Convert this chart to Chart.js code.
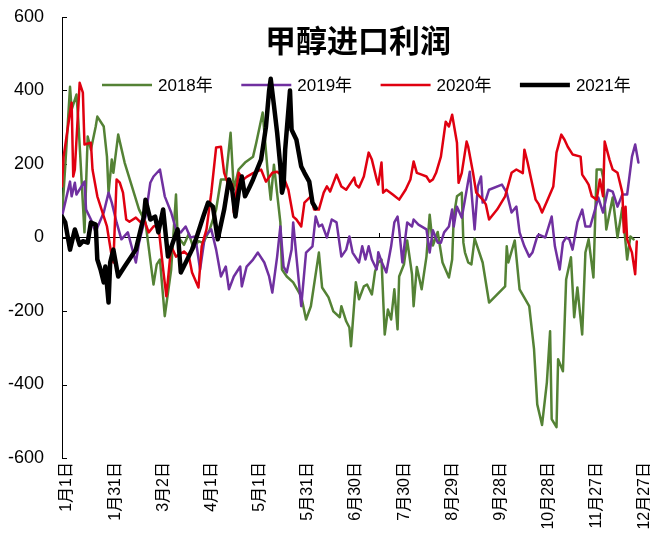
<!DOCTYPE html>
<html>
<head>
<meta charset="utf-8">
<script src="https://cdn.jsdelivr.net/npm/chart.js@4.4.1/dist/chart.umd.min.js"></script>
<style>
	html, body { margin: 0; padding: 0; background: #fff; }
</style>
</head>
<body>
<canvas id="importProfitChart" width="650" height="549"></canvas>
<script>
const chartTitle = '甲醇进口利润';
const seriesNames = ['2018年', '2019年', '2020年', '2021年'];
const xLabels = ['1月1日', '1月31日', '3月2日', '4月1日', '5月1日', '5月31日', '6月30日', '7月30日', '8月29日', '9月28日', '10月28日', '11月27日', '12月27日'];
const yTicks = [-600, -400, -200, 0, 200, 400, 600];
// small marks on the zero line (day of year)
const zeroLineTicks = [0, 98.7, 197.5, 296.2];

// day of year (0 = 1月1日) and profit
const days2018 = [0,2,5,6,9,10,14,16,18,21,22,26,28,29,31,32,35,39,48,52,56,57,59,61,64,68,71,72,76,79,82,85,88,92,96,99,102,105,107,110,114,119,121,125,128,130,132,136,137,140,144,149,152,155,160,162,166,169,173,174,177,179,180,183,185,188,190,193,195,197,199,201,203,205,207,209,210,213,215,218,219,221,224,227,229,231,234,237,241,243,244,246,249,250,251,253,255,257,262,266,276,277,278,282,285,291,294,296,299,302,304,305,308,309,312,314,317,319,321,324,326,328,331,333,336,337,339,343,346,349,352,354,356];
const profit2018 = [57,193,410,348,389,330,14,275,239,302,329,302,220,122,212,176,280,204,76,41,-95,-128,-73,-60,-214,-87,117,3,-20,10,-30,-10,-15,22,76,158,158,285,130,185,204,220,258,340,185,103,198,41,-87,-106,-122,-160,-223,-187,-41,-136,-163,-201,-217,-187,-228,-245,-296,-122,-168,-133,-128,-155,-92,-68,-60,-264,-196,-223,-141,-250,-106,-73,-8,-100,-187,-80,-141,-52,62,-22,15,-68,-109,-60,57,112,122,-14,-41,-68,-73,-3,-68,-177,-133,-24,-68,-8,-141,-187,-304,-454,-510,-394,-255,-494,-516,-331,-364,-114,-54,-217,-136,-264,-41,-5,-109,185,185,163,22,109,0,81,-60,3,-5];

const days2019 = [0,5,6,8,9,14,15,18,21,22,26,29,31,34,37,41,46,48,52,55,57,61,64,68,71,74,77,80,83,86,89,93,96,99,102,104,107,111,112,115,119,122,126,129,131,134,136,138,140,143,144,146,149,152,156,158,160,162,165,168,171,174,177,179,181,185,187,189,191,193,196,197,199,202,205,207,209,210,212,215,218,219,222,227,229,231,234,236,238,241,243,244,246,249,251,254,257,259,261,262,264,266,274,277,280,283,285,288,291,293,296,297,301,305,307,310,312,314,316,318,321,324,326,329,332,334,337,340,343,346,349,352,355,357,359];
const profit2019 = [57,152,112,149,117,152,76,49,14,27,68,122,95,41,-5,14,-68,-14,57,149,166,185,112,68,22,14,30,0,3,-87,3,22,-33,-106,-79,-141,-106,-79,-133,-79,-60,-41,-68,-106,-150,-52,30,-79,-95,-33,41,-52,-187,-41,-24,57,30,35,0,49,41,-52,-33,3,-41,-68,-24,-60,-24,-60,-87,-40,-65,-95,-24,41,57,22,-68,41,30,49,35,22,-41,20,-14,-14,14,30,76,30,84,54,103,179,22,139,166,95,103,130,144,122,68,84,14,-24,-52,-41,3,8,0,57,-24,-87,-14,0,-5,-33,41,76,30,30,76,109,68,130,125,84,117,117,220,253,204];

const days2020 = [0,1,5,6,7,8,11,13,14,18,19,22,28,31,32,34,36,38,40,42,46,49,51,54,57,60,63,65,68,71,76,79,81,85,87,90,93,96,99,101,104,106,107,110,113,115,119,124,127,131,134,138,141,144,146,149,151,155,157,160,163,165,167,171,174,177,182,183,185,188,191,193,196,197,199,200,202,206,210,214,217,219,221,224,227,229,231,233,236,239,241,243,246,247,249,252,253,256,258,262,264,266,271,276,280,283,287,288,290,292,295,297,299,302,306,308,311,313,315,318,323,324,326,328,330,333,335,337,338,341,343,346,349,350,351,352,355,357,358];
const profit2020 = [139,220,340,367,166,185,421,394,253,258,185,112,30,-52,-68,158,149,122,49,43,54,41,50,14,30,35,-87,-160,-24,-52,-38,-50,-95,-136,-24,22,122,245,247,176,139,145,68,176,158,165,175,185,152,176,179,165,130,57,49,30,95,112,76,76,122,139,125,171,139,130,163,144,136,166,231,212,158,144,204,122,130,117,103,130,158,207,176,171,166,152,158,176,220,315,302,334,258,149,176,261,247,176,122,103,90,49,76,112,176,185,175,239,204,163,103,90,68,98,139,231,280,266,247,226,220,171,158,144,112,103,158,112,261,212,185,176,122,14,84,-5,-41,-100,-11];

const days2021 = [0,2,5,8,11,13,16,18,21,22,24,26,27,29,30,32,35,39,46,49,51,52,55,58,60,63,66,69,72,74,78,81,84,88,91,94,97,101,104,106,108,110,112,114,117,119,124,127,129,130,132,134,136,137,138,139,142,143,146,149,151,154,156,158];
const profit2021 = [57,41,-33,22,-20,-10,-14,41,35,-60,-87,-122,-79,-177,-68,-33,-106,-79,-33,22,57,103,49,57,14,76,-52,-14,22,-95,-60,-33,3,57,95,84,-5,76,158,130,57,122,166,112,139,158,212,300,400,432,360,285,193,122,139,239,400,293,266,193,176,152,95,80];

const fontFamily = '"Liberation Sans", Arial, "Noto Sans CJK SC", sans-serif';

function toPoints(days, values) {
	return days.map(function (d, i) {
		return { x: d, y: values[i] };
	});
}

function lineSet(label, days, values, color, width, order) {
	return {
		label: label,
		data: toPoints(days, values),
		borderColor: color,
		backgroundColor: color,
		borderWidth: width,
		borderJoinStyle: 'round',
		borderCapStyle: 'round',
		pointRadius: 0,
		tension: 0,
		order: order,
	};
}

// title and legend sit inside the plot, under the lines
const titleAndLegend = {
	id: 'titleAndLegend',
	beforeDatasetsDraw: function (chart) {
		const ctx = chart.ctx;
		ctx.save();
		ctx.fillStyle = '#000';
		ctx.textBaseline = 'middle';
		ctx.textAlign = 'center';
		ctx.font = 'bold 31px "Noto Sans CJK SC", sans-serif';
		ctx.fillText(chartTitle, 358, 40);

		ctx.font = '17px ' + fontFamily;
		ctx.textAlign = 'left';
		chart.data.datasets.forEach(function (ds, i) {
			const x = 102 + i * 139.3;
			ctx.strokeStyle = ds.borderColor;
			ctx.lineWidth = ds.borderWidth;
			ctx.beginPath();
			ctx.moveTo(x, 85);
			ctx.lineTo(x + 50, 85);
			ctx.stroke();
			ctx.fillText(ds.label, x + 56, 86);
		});

		// small inside tick marks on the value axis and on the zero line
		const xScale = chart.scales.x;
		const yScale = chart.scales.y;
		ctx.strokeStyle = '#000';
		ctx.lineWidth = 1;
		yScale.ticks.forEach(function (t) {
			const py = Math.round(yScale.getPixelForValue(t.value)) + 0.5;
			ctx.beginPath();
			ctx.moveTo(yScale.right, py);
			ctx.lineTo(yScale.right + 5, py);
			ctx.stroke();
		});
		const zeroY = Math.round(yScale.getPixelForValue(0));
		zeroLineTicks.forEach(function (d) {
			const px = Math.round(xScale.getPixelForValue(d)) + 0.5;
			ctx.beginPath();
			ctx.moveTo(px, zeroY);
			ctx.lineTo(px, zeroY - 5);
			ctx.stroke();
		});
		ctx.restore();
	},
};

Chart.defaults.font.family = fontFamily;
Chart.defaults.color = '#000';

const ctx = document.getElementById('importProfitChart').getContext('2d');
const chart = new Chart(ctx, {
	type: 'line',
	data: {
		datasets: [
			lineSet(seriesNames[0], days2018, profit2018, '#548235', 2.5, 4),
			lineSet(seriesNames[1], days2019, profit2019, '#7030A0', 2.5, 3),
			lineSet(seriesNames[2], days2020, profit2020, '#E00010', 2.5, 2),
			lineSet(seriesNames[3], days2021, profit2021, '#000000', 4.5, 1),
		],
	},
	options: {
		responsive: false,
		animation: false,
		devicePixelRatio: 1,
		layout: {
			padding: { top: 17, right: 10, bottom: 0, left: 0 },
		},
		plugins: {
			legend: { display: false },
			title: { display: false },
			tooltip: { enabled: false },
		},
		scales: {
			x: {
				type: 'linear',
				min: 0,
				max: 360,
				border: { display: false },
				grid: { display: false, drawTicks: false },
				ticks: {
					stepSize: 30,
					autoSkip: false,
					minRotation: 90,
					maxRotation: 90,
					padding: 4,
					labelOffset: 5,
					font: { size: 16 },
					callback: function (value, index) {
						return xLabels[index];
					},
				},
				afterFit: function (scale) {
					scale.height = 91;
					scale.paddingLeft = 0;
					scale.paddingRight = 0;
				},
			},
			y: {
				min: yTicks[0],
				max: yTicks[yTicks.length - 1],
				border: { display: true, color: '#000', width: 1 },
				grid: {
					drawTicks: false,
					lineWidth: 1,
					color: function (c) {
						return c.tick && c.tick.value === 0 ? '#000' : 'rgba(0,0,0,0)';
					},
				},
				ticks: {
					stepSize: yTicks[1] - yTicks[0],
					padding: 18,
					font: { size: 18 },
				},
				afterFit: function (scale) {
					scale.width = 62;
					scale.paddingTop = 0;
					scale.paddingBottom = 0;
				},
			},
		},
	},
	plugins: [titleAndLegend],
});
</script>
</body>
</html>
